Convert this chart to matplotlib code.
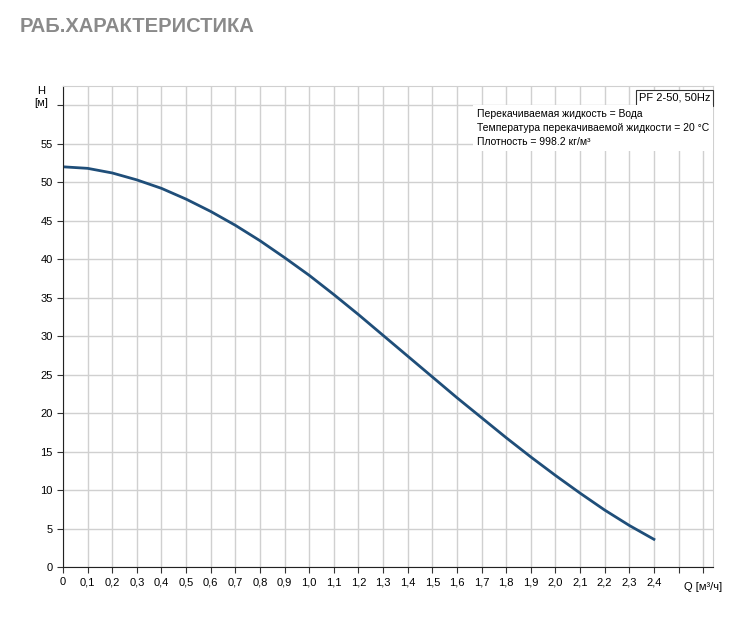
import matplotlib
matplotlib.use("Agg")
import matplotlib.pyplot as plt
import numpy as np

plt.rcParams["font.family"] = "Liberation Sans"

# curve
q = [0, 0.1, 0.2, 0.3, 0.4, 0.5, 0.6, 0.7, 0.8, 0.9, 1.0, 1.1, 1.2,
     1.3, 1.4, 1.5, 1.6, 1.7, 1.8, 1.9, 2.0, 2.1, 2.2, 2.3, 2.4]
h = [52.0, 51.8, 51.2, 50.3, 49.2, 47.8, 46.2, 44.4, 42.4, 40.2, 37.9, 35.4, 32.8,
     30.1, 27.4, 24.7, 22.0, 19.4, 16.8, 14.3, 11.9, 9.6, 7.4, 5.4, 3.6]
x_labels = ["0"] + [f"{v:.1f}".replace(".", ",") for v in np.arange(0.1, 2.45, 0.1)]
y_ticks = list(range(0, 61, 5))

fig = plt.figure(figsize=(7.4, 6.17), dpi=100)
ax = fig.add_axes([63/740, 1 - 567/617, 650/740, (567 - 86)/617])

ax.plot(q, h, color="#1f4e79", lw=2)

xt = np.round(np.arange(0, 2.65, 0.1), 1)
ax.set_xticks(xt)
ax.set_xticklabels(x_labels + ["", ""], fontsize=8)
ax.set_yticks(y_ticks)
ax.set_yticklabels([str(v) for v in y_ticks[:-1]] + [""], fontsize=8)
ax.set_xlim(0, 2.64)
ax.set_ylim(0, 62.5)
ax.grid(True, color="#d0d0d0", lw=1)
ax.tick_params(length=4, color="#333333", direction="out")
for s in ["top", "right"]:
    ax.spines[s].set_color("#d0d0d0")
ax.spines["left"].set_color("#222222")
ax.spines["bottom"].set_color("#222222")

ax.text(2.6, -1.9, "Q [м³/ч]", fontsize=8, ha="center", va="top")
ax.text(-0.09, 62.5, "H\n[м]", fontsize=8, ha="center", va="top", linespacing=1.3)

ax.text(2.63, 61.6, "PF 2-50, 50Hz", fontsize=8, ha="right", va="top",
        bbox=dict(facecolor="white", edgecolor="#333333", boxstyle="square,pad=0.25", lw=0.8))
ax.text(1.68, 59.5, "Перекачиваемая жидкость = Вода\nТемпература перекачиваемой жидкости = 20 °C\nПлотность = 998.2 кг/м³",
        fontsize=7.5, ha="left", va="top", linespacing=1.5,
        bbox=dict(facecolor="white", edgecolor="none", boxstyle="square,pad=0.35"))

fig.text(20/740, 1 - 27/617, "РАБ.ХАРАКТЕРИСТИКА", fontsize=14.5, fontweight="bold",
         color="#8a8a8a", va="center", ha="left")

fig.savefig("out.png", dpi=100)
